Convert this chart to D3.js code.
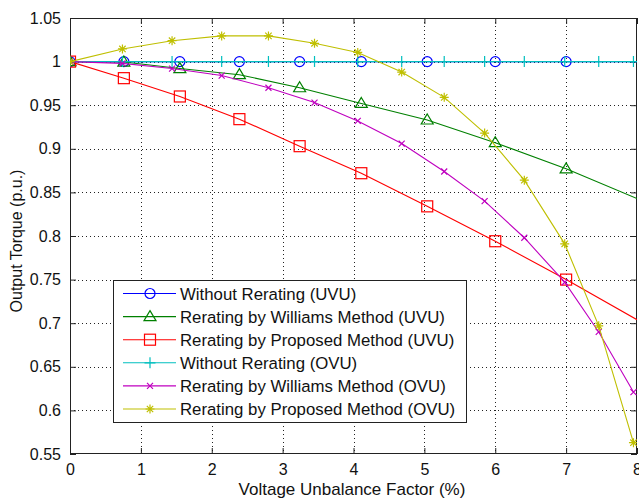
<!DOCTYPE html>
<html>
<head>
<meta charset="utf-8">
<script src="https://cdn.jsdelivr.net/npm/d3@7/dist/d3.min.js"></script>
<style>
  html, body { margin: 0; padding: 0; background: #fff; }
  svg { display: block; font-family: "Liberation Sans", Arial, sans-serif; }
</style>
</head>
<body>
<svg id="chart" width="639" height="500"></svg>
<script>
// ---------- data ----------
const uvuX = [0, 0.76, 1.55, 2.39, 3.24, 4.11, 5.04, 6.0, 7.0];
const uvuEndX = 8;
const blueUVU = [1, 1, 1, 1, 1, 1, 1, 1, 1];
const blueEnd = 1.0;
const greenUVU = [1, 0.9995, 0.992, 0.985, 0.970, 0.952, 0.933, 0.907, 0.877];
const greenEnd = 0.843;
const redUVU = [1, 0.981, 0.960, 0.934, 0.903, 0.872, 0.834, 0.794, 0.750];
const redEnd = 0.704;

const ovuX = [0, 0.74, 1.44, 2.14, 2.8, 3.45, 4.06, 4.68, 5.28, 5.85, 6.41, 6.98, 7.46, 7.95];
const cyanOVU = [1, 1, 1, 1, 1, 1, 1, 1, 1, 1, 1, 1, 1, 1];
const magentaOVU = [1, 0.998, 0.992, 0.984, 0.970, 0.953, 0.932, 0.906, 0.874, 0.840, 0.798, 0.747, 0.690, 0.621];
const yellowOVU = [1, 1.0145, 1.024, 1.0295, 1.0295, 1.021, 1.0105, 0.988, 0.959, 0.918, 0.864, 0.791, 0.697, 0.563];

const seriesNames = [
  "Without Rerating (UVU)",
  "Rerating by Williams Method (UVU)",
  "Rerating by Proposed Method (UVU)",
  "Without Rerating (OVU)",
  "Rerating by Williams Method (OVU)",
  "Rerating by Proposed Method (OVU)"
];
const seriesColors = ["#0000ff", "#008000", "#ff0000", "#00bfbf", "#bf00bf", "#bfbf00"];
const seriesMarkers = ["circle", "triangle", "square", "plus", "cross", "star"];

const xTicks = [0, 1, 2, 3, 4, 5, 6, 7, 8];
const yTicks = [0.55, 0.6, 0.65, 0.7, 0.75, 0.8, 0.85, 0.9, 0.95, 1, 1.05];
const xLabel = "Voltage Unbalance Factor (%)";
const yLabel = "Output Torque (p.u.)";

// ---------- build ----------
const series = [
  { x: uvuX, y: blueUVU, end: [uvuEndX, blueEnd] },
  { x: uvuX, y: greenUVU, end: [uvuEndX, greenEnd] },
  { x: uvuX, y: redUVU, end: [uvuEndX, redEnd] },
  { x: ovuX, y: cyanOVU, end: null },
  { x: ovuX, y: magentaOVU, end: null },
  { x: ovuX, y: yellowOVU, end: null }
].map((s, i) => ({
  name: seriesNames[i], color: seriesColors[i], marker: seriesMarkers[i],
  pts: s.x.map((xv, j) => [xv, s.y[j]]),
  linePts: s.x.map((xv, j) => [xv, s.y[j]]).concat(s.end ? [s.end] : [])
}));

const L = 70, R = 637, T = 18, B = 454;
const x = d3.scaleLinear().domain([0, 8]).range([L, R]);
const y = d3.scaleLinear().domain([0.55, 1.05]).range([B, T]);

const svg = d3.select("#chart");
svg.append("rect").attr("width", 639).attr("height", 500).attr("fill", "#fff");

svg.append("defs").append("clipPath").attr("id", "clip")
  .append("rect").attr("x", L).attr("y", T).attr("width", R - L).attr("height", B - T);

// grid
const grid = svg.append("g").attr("stroke", "#222").attr("stroke-width", 1).attr("stroke-dasharray", "1,3");
xTicks.slice(1, -1).forEach(t => {
  grid.append("line").attr("x1", Math.round(x(t)) + 0.5).attr("x2", Math.round(x(t)) + 0.5).attr("y1", T).attr("y2", B);
});
yTicks.slice(1, -1).forEach(t => {
  grid.append("line").attr("y1", Math.round(y(t)) + 0.5).attr("y2", Math.round(y(t)) + 0.5).attr("x1", L).attr("x2", R);
});

// axes (MATLAB style, ticks inward on all sides)
const fontSize = 16;
const axB = d3.axisBottom(x).tickValues(xTicks).tickFormat(d3.format("d")).tickSizeInner(-6).tickSizeOuter(0).tickPadding(10);
const axT = d3.axisTop(x).tickValues(xTicks).tickFormat("").tickSizeInner(-6).tickSizeOuter(0);
const axL = d3.axisLeft(y).tickValues(yTicks).tickFormat(d => d === 1 ? "1" : d3.format("")(d)).tickSizeInner(-6).tickSizeOuter(0).tickPadding(9);
const axRt = d3.axisRight(y).tickValues(yTicks).tickFormat("").tickSizeInner(-6).tickSizeOuter(0);

function styleAxis(g) {
  g.select(".domain").remove();
  g.selectAll(".tick line").attr("stroke", "#222");
  g.selectAll(".tick text").attr("fill", "#111").style("font-size", fontSize + "px").style("font-family", "'Liberation Sans', Arial, sans-serif");
}
svg.append("g").attr("transform", `translate(0,${B})`).call(axB).call(styleAxis);
svg.append("g").attr("transform", `translate(0,${T})`).call(axT).call(styleAxis);
svg.append("g").attr("transform", `translate(${L},0)`).call(axL).call(styleAxis);
svg.append("g").attr("transform", `translate(${R},0)`).call(axRt).call(styleAxis);

// frame
svg.append("rect").attr("x", L + 0.5).attr("y", T + 0.5).attr("width", R - L - 1).attr("height", B - T - 1)
  .attr("fill", "none").attr("stroke", "#222").attr("stroke-width", 1);

// marker drawer
function drawMarker(g, type, cx, cy, color) {
  const sw = 1.2;
  if (type === "circle") {
    g.append("circle").attr("cx", cx).attr("cy", cy).attr("r", 5).attr("fill", "none").attr("stroke", color).attr("stroke-width", sw);
  } else if (type === "square") {
    g.append("rect").attr("x", cx - 5.5).attr("y", cy - 5.5).attr("width", 11).attr("height", 11).attr("fill", "none").attr("stroke", color).attr("stroke-width", sw);
  } else if (type === "triangle") {
    g.append("path").attr("d", `M${cx},${cy - 6}L${cx + 6},${cy + 4}L${cx - 6},${cy + 4}Z`).attr("fill", "none").attr("stroke", color).attr("stroke-width", sw);
  } else if (type === "plus") {
    g.append("path").attr("d", `M${cx},${cy - 5.5}V${cy + 5.5}M${cx - 5.5},${cy}H${cx + 5.5}`).attr("stroke", color).attr("stroke-width", sw);
  } else if (type === "cross") {
    g.append("path").attr("d", `M${cx - 3},${cy - 3}L${cx + 3},${cy + 3}M${cx - 3},${cy + 3}L${cx + 3},${cy - 3}`).attr("stroke", color).attr("stroke-width", sw);
  } else if (type === "star") {
    const r = 4.5, d = 3.2;
    g.append("path").attr("d", `M${cx},${cy - r}V${cy + r}M${cx - r},${cy}H${cx + r}M${cx - d},${cy - d}L${cx + d},${cy + d}M${cx - d},${cy + d}L${cx + d},${cy - d}`)
      .attr("stroke", color).attr("stroke-width", sw);
  }
}

// series
const line = d3.line().x(d => x(d[0])).y(d => y(d[1]));
const plot = svg.append("g").attr("clip-path", "url(#clip)");
series.forEach(s => {
  const g = plot.append("g");
  g.append("path").attr("d", line(s.linePts)).attr("fill", "none").attr("stroke", s.color).attr("stroke-width", 1.1);
  s.pts.forEach(p => drawMarker(g, s.marker, x(p[0]), y(p[1]), s.color));
});

// legend
const lg = svg.append("g");
const lx = 113, ly = 280, lw = 353, lh = 142;
lg.append("rect").attr("x", lx + 0.5).attr("y", ly + 0.5).attr("width", lw).attr("height", lh)
  .attr("fill", "#fff").attr("stroke", "#222").attr("stroke-width", 1);
series.forEach((s, i) => {
  const cy = 293.5 + i * 23.1;
  lg.append("line").attr("x1", 123).attr("x2", 176).attr("y1", cy).attr("y2", cy).attr("stroke", s.color).attr("stroke-width", 1.1);
  drawMarker(lg, s.marker, 150, cy, s.color);
  lg.append("text").attr("x", 180).attr("y", cy).attr("dy", "0.36em")
    .style("font-size", "16.8px").attr("fill", "#111").text(s.name);
});

// axis labels
svg.append("text").attr("x", 352).attr("y", 495).attr("text-anchor", "middle")
  .style("font-size", "17px").attr("fill", "#111").text(xLabel);
svg.append("text").attr("transform", `translate(22,${(T + B) / 2 + 5}) rotate(-90)`).attr("text-anchor", "middle")
  .style("font-size", "16px").attr("fill", "#111").text(yLabel);
</script>
</body>
</html>
